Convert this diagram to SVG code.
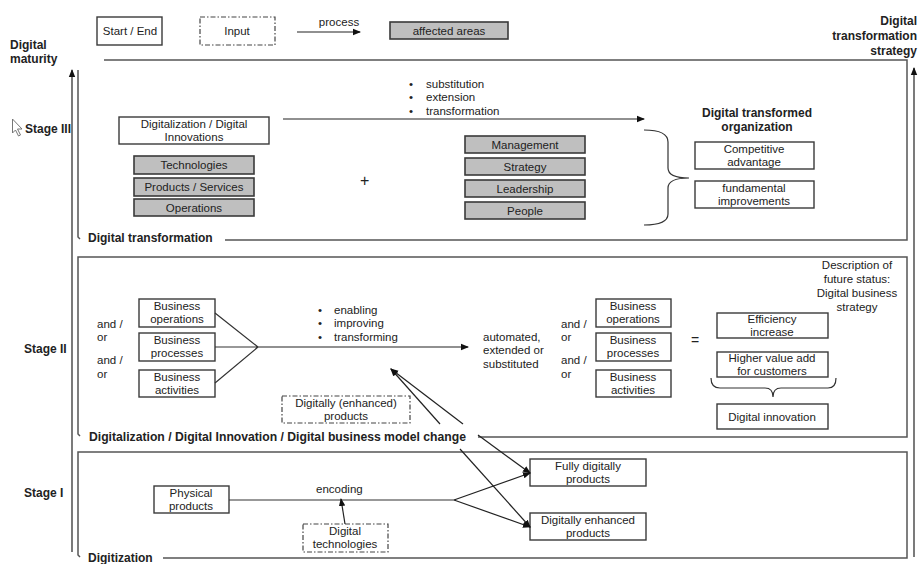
<svg xmlns="http://www.w3.org/2000/svg" width="919" height="564" viewBox="0 0 919 564">
<defs>
<marker id="ah" markerWidth="8" markerHeight="8" refX="7" refY="4" orient="auto" markerUnits="userSpaceOnUse">
<path d="M0,0.8 L8,4 L0,7.2 Z" fill="#111"/>
</marker>
<style>
text{font-family:"Liberation Sans",Arial,sans-serif;fill:#222;font-size:11.5px}
.c{text-anchor:middle}
.b{font-weight:bold;font-size:12px}
.n{font-family:"Liberation Sans Narrow","Liberation Sans",Arial,sans-serif;font-size:11.5px}
.box{fill:#fff;stroke:#3a3a3a;stroke-width:1.4}
.gbox{fill:#bfbfbf;stroke:#3a3a3a;stroke-width:1.6}
.dbox{fill:#fff;stroke:#444;stroke-width:1.2;stroke-dasharray:5 2 1.5 2}
.fr{fill:none;stroke:#555;stroke-width:1.5}
.ln{fill:none;stroke:#333;stroke-width:1.2}
.ar{fill:none;stroke:#222;stroke-width:1.2;marker-end:url(#ah)}
</style>
</defs>
<rect width="919" height="564" fill="#fff"/>

<g id="legend">
<rect class="box" x="97" y="17" width="65" height="28"/>
<text class="n c" x="130" y="35">Start / End</text>
<rect class="dbox" x="200" y="17" width="75" height="28"/>
<text class="n c" x="237" y="35">Input</text>
<text class="n c" x="339" y="26">process</text>
<rect class="gbox" x="390" y="22" width="118" height="17"/>
<text class="n c" x="449" y="35">affected areas</text>
</g>

<g id="axes">
<text class="b" x="10" y="49">Digital</text>
<text class="b" x="10" y="63">maturity</text>
<text class="b" x="917" y="25" text-anchor="end">Digital</text>
<text class="b" x="917" y="40" text-anchor="end">transformation</text>
<text class="b" x="917" y="55" text-anchor="end">strategy</text>
<text class="b" x="25" y="133">Stage III</text>
<text class="b" x="24" y="353">Stage II</text>
<text class="b" x="24" y="497">Stage I</text>
<path d="M12.5,119 L12.5,133 L15.5,130 L18.5,136 L20.5,135 L17.5,129 L22,129 Z" fill="#fff" stroke="#777" stroke-width="1"/>
</g>

<g id="frames">
<path class="fr" d="M104,60 L907,60 L907,240 L225,240"/>
<path class="fr" d="M78,70 L78,237 L80,239"/>
<text class="b" x="88" y="242">Digital transformation</text>
<path class="fr" d="M478,437 L907,437 L907,257 L78,257 L78,434 L80,436"/>
<text class="b" x="89" y="441" textLength="377" lengthAdjust="spacingAndGlyphs">Digitalization / Digital Innovation / Digital business model change</text>
<path class="fr" d="M163,558 L907,558 L907,452 L78,452 L78,555 L80,557"/>
<text class="b" x="88" y="562">Digitization</text>
</g>

<g id="stage3">
<g id="s3-digitalization">
<rect class="box" x="119" y="117" width="150" height="27"/>
<text class="c" x="194" y="128">Digitalization / Digital</text>
<text class="c" x="194" y="141">Innovations</text>
</g>
<g id="s3-technologies"><rect class="gbox" x="134" y="156" width="120" height="18"/><text class="c" x="194" y="169">Technologies</text></g>
<g id="s3-products"><rect class="gbox" x="134" y="178" width="120" height="18"/><text class="c" x="194" y="191">Products / Services</text></g>
<g id="s3-operations"><rect class="gbox" x="134" y="199" width="120" height="17"/><text class="c" x="194" y="212">Operations</text></g>
<text x="360" y="186" style="font-size:16px">+</text>
<text x="409" y="88">•</text><text x="426" y="88">substitution</text>
<text x="409" y="101">•</text><text x="426" y="101">extension</text>
<text x="409" y="115">•</text><text x="426" y="115">transformation</text>
<g id="s3-management"><rect class="gbox" x="465" y="136" width="120" height="17"/><text class="c" x="525" y="149">Management</text></g>
<g id="s3-strategy"><rect class="gbox" x="465" y="158" width="120" height="17"/><text class="c" x="525" y="171">Strategy</text></g>
<g id="s3-leadership"><rect class="gbox" x="465" y="180" width="120" height="17"/><text class="c" x="525" y="193">Leadership</text></g>
<g id="s3-people"><rect class="gbox" x="465" y="202" width="120" height="17"/><text class="c" x="525" y="215">People</text></g>
<text class="b c" x="757" y="117">Digital transformed</text>
<text class="b c" x="757" y="131">organization</text>
<g id="s3-competitive"><rect class="box" x="695" y="142" width="119" height="27"/><text class="c" x="754" y="153">Competitive</text><text class="c" x="754" y="166">advantage</text></g>
<g id="s3-fundamental"><rect class="box" x="695" y="181" width="119" height="27"/><text class="c" x="754" y="192">fundamental</text><text class="c" x="754" y="205">improvements</text></g>
</g>

<g id="stage2">
<text x="97" y="328">and /</text><text x="97" y="341">or</text>
<text x="97" y="364">and /</text><text x="97" y="378">or</text>
<g id="s2-ops-l"><rect class="box" x="139" y="299" width="76" height="28"/><text class="c" x="177" y="310">Business</text><text class="c" x="177" y="323">operations</text></g>
<g id="s2-proc-l"><rect class="box" x="139" y="333" width="76" height="28"/><text class="c" x="177" y="344">Business</text><text class="c" x="177" y="357">processes</text></g>
<g id="s2-act-l"><rect class="box" x="139" y="370" width="76" height="27"/><text class="c" x="177" y="381">Business</text><text class="c" x="177" y="394">activities</text></g>
<text x="318" y="314">•</text><text x="334" y="314">enabling</text>
<text x="318" y="327">•</text><text x="334" y="327">improving</text>
<text x="318" y="341">•</text><text x="334" y="341">transforming</text>
<text x="483" y="341">automated,</text>
<text x="483" y="354">extended or</text>
<text x="483" y="368">substituted</text>
<text x="561" y="328">and /</text><text x="561" y="341">or</text>
<text x="561" y="364">and /</text><text x="561" y="378">or</text>
<g id="s2-ops-r"><rect class="box" x="596" y="299" width="75" height="28"/><text class="c" x="633" y="310">Business</text><text class="c" x="633" y="323">operations</text></g>
<g id="s2-proc-r"><rect class="box" x="596" y="333" width="75" height="28"/><text class="c" x="633" y="344">Business</text><text class="c" x="633" y="357">processes</text></g>
<g id="s2-act-r"><rect class="box" x="596" y="370" width="75" height="27"/><text class="c" x="633" y="381">Business</text><text class="c" x="633" y="394">activities</text></g>
<text x="691" y="345" style="font-size:14px">=</text>
<g id="s2-efficiency"><rect class="box" x="717" y="313" width="111" height="25"/><text class="c" x="772" y="323">Efficiency</text><text class="c" x="772" y="336">increase</text></g>
<g id="s2-higher"><rect class="box" x="717" y="352" width="111" height="25"/><text class="c" x="772" y="362">Higher value add</text><text class="c" x="772" y="375">for customers</text></g>
<g id="s2-innovation"><rect class="box" x="717" y="404" width="111" height="25"/><text class="c" x="772" y="421">Digital innovation</text></g>
<text class="c" x="857" y="269">Description of</text>
<text class="c" x="857" y="283">future status:</text>
<text class="c" x="857" y="297">Digital business</text>
<text class="c" x="857" y="311">strategy</text>
<g id="s2-digitally"><rect class="dbox" x="282" y="396" width="128" height="27"/><text class="c" x="346" y="407">Digitally (enhanced)</text><text class="c" x="346" y="420">products</text></g>
</g>

<g id="stage1">
<g id="s1-physical"><rect class="box" x="154" y="486" width="75" height="27"/><text class="c" x="191" y="497">Physical</text><text class="c" x="191" y="510">products</text></g>
<text x="316" y="493">encoding</text>
<g id="s1-tech"><rect class="dbox" x="303" y="524" width="85" height="28"/><text class="c" x="345" y="535">Digital</text><text class="c" x="345" y="548">technologies</text></g>
<g id="s1-fully"><rect class="box" x="530" y="459" width="116" height="27"/><text class="c" x="588" y="470">Fully digitally</text><text class="c" x="588" y="483">products</text></g>
<g id="s1-enhanced"><rect class="box" x="530" y="513" width="116" height="27"/><text class="c" x="588" y="524">Digitally enhanced</text><text class="c" x="588" y="537">products</text></g>
</g>

<g id="connectors">
<line class="ar" x1="72" y1="552" x2="72" y2="70"/>
<line class="ar" x1="914" y1="557" x2="914" y2="68"/>
<line class="ar" x1="297" y1="32" x2="360" y2="32"/>
<line class="ar" x1="283" y1="119" x2="644" y2="119"/>
<path class="ln" d="M644,130 Q668,130 668,142 L668,168 Q668,178 689,178 Q668,178 668,188 L668,214 Q668,225 644,225"/>
<path class="ln" d="M215,313 L258,347 M215,347 L258,347 M215,383 L258,347"/>
<line class="ar" x1="258" y1="347" x2="468" y2="347"/>
<path class="ln" d="M711,378 Q711,388 720,388 L765,388 Q773,388 773,397 Q773,388 781,388 L828,388 Q836,388 836,378"/>
<line class="ar" x1="440" y1="424" x2="391" y2="369"/>
<line class="ar" x1="463" y1="424" x2="391" y2="369"/>
<line class="ar" x1="478" y1="435" x2="530" y2="473"/>
<line class="ar" x1="460" y1="449" x2="530" y2="527"/>
<line class="ln" x1="229" y1="500" x2="454" y2="500"/>
<line class="ar" x1="454" y1="500" x2="530" y2="473"/>
<line class="ar" x1="454" y1="500" x2="530" y2="527"/>
<line class="ar" x1="345" y1="524" x2="341" y2="499"/>
</g>
</svg>
